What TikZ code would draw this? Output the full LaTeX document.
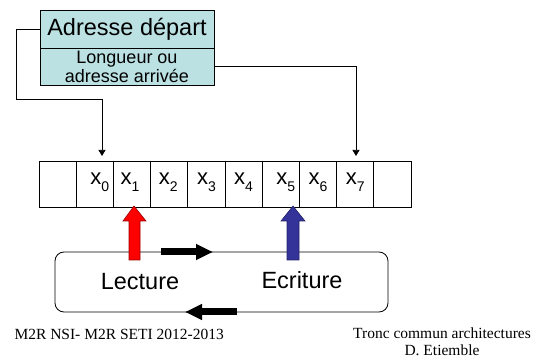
\documentclass[tikz,border=0pt]{standalone}
\usepackage{fontspec}
\setmainfont{Liberation Serif}
\newfontfamily\arial{Liberation Sans}
\usetikzlibrary{arrows.meta}
\definecolor{boxcyan}{RGB}{187,225,227}
\definecolor{readred}{RGB}{255,0,0}
\definecolor{writeblue}{RGB}{51,51,153}
\newcommand{\xlab}[1]{x\raisebox{-6.5pt}{\fontsize{14}{14}\selectfont #1}}
\begin{document}
\begin{tikzpicture}[x=1pt,y=-1pt]
        \tikzstyle{cell}=[draw, line width=0.8pt, minimum width=37.2pt, minimum height=46pt, inner sep=0pt]
        \tikzstyle{link}=[draw, line width=0.7pt, -{Triangle[length=6pt,width=7pt]}]
        \tikzstyle{dir}=[line width=7pt, -{Triangle[length=17pt,width=15pt]}]
        \tikzstyle{tag}=[font=\arial\fontsize{22}{22}\selectfont, inner sep=0pt]
        \useasboundingbox (0,0) rectangle (533,363);
        % address registers
        \node[draw, fill=boxcyan, minimum width=174pt, minimum height=38pt, inner sep=0pt,
              font=\arial\fontsize{23.5}{23.5}\selectfont] (adr) at (127,29) {Adresse départ};
        \node[draw, fill=boxcyan, minimum width=174pt, minimum height=37pt, inner sep=0pt, align=center,
              font=\arial\fontsize{18}{19}\selectfont] (lng) at (127,66.5) {Longueur ou\\adresse arrivée};
        % memory cells
        \foreach \i in {1,...,10}
          \node[cell] (c\i) at ({39+37.2*(\i-0.5)},184) {};
        \foreach \i/\txt/\sh in {2/0/5, 3/1/-2, 4/2/-1, 5/3/0, 6/4/0, 7/5/5, 8/6/0, 9/7/0}
          \node[tag, anchor=base] (x\txt) at ([xshift=\sh pt, yshift=-1pt]c\i.center) {\xlab{\txt}};
        % pointers
        \coordinate (p1) at (16,99);
        \coordinate (in0) at (102,156);
        \coordinate (in7) at (356,156);
        \draw[link] (adr.west) -| (p1) -| (in0);
        \draw[link] (lng.east) -| (in7);
        % transfer unit
        \node[draw, line width=0.8pt, rounded corners=9pt, minimum width=333pt, minimum height=60pt] (unit) at (221.5,282) {};
        \node[font=\arial\fontsize{23.5}{23.5}\selectfont] (lec) at (140,282) {Lecture};
        \node[font=\arial\fontsize{23.5}{23.5}\selectfont] (ecr) at (302,280) {Ecriture};
        \filldraw[fill=readred, draw=red!60!black, line width=0.6pt]
          (134,206) -- (146,221) -- (140,221) -- (140,260) -- (129,260) -- (129,221) -- (123,221) -- cycle;
        \filldraw[fill=writeblue, draw=writeblue!70!black, line width=0.6pt]
          (293,206) -- (305,221) -- (299,221) -- (299,260) -- (287,260) -- (287,221) -- (281,221) -- cycle;
        \coordinate (d1) at (161,252);
        \coordinate (d2) at (213,252);
        \coordinate (d3) at (237,312);
        \coordinate (d4) at (185,312);
        \draw[dir] (d1) -- (d2);
        \draw[dir] (d3) -- (d4);
        % footer
        \node[font=\fontsize{15.5}{16}\selectfont, anchor=west] (ftl) at (11,334) {M2R NSI- M2R SETI 2012-2013};
        \node[font=\fontsize{15.5}{17}\selectfont, align=center] (ftr) at (442,342) {Tronc commun architectures\\D. Etiemble};
      \end{tikzpicture}
\end{document}
